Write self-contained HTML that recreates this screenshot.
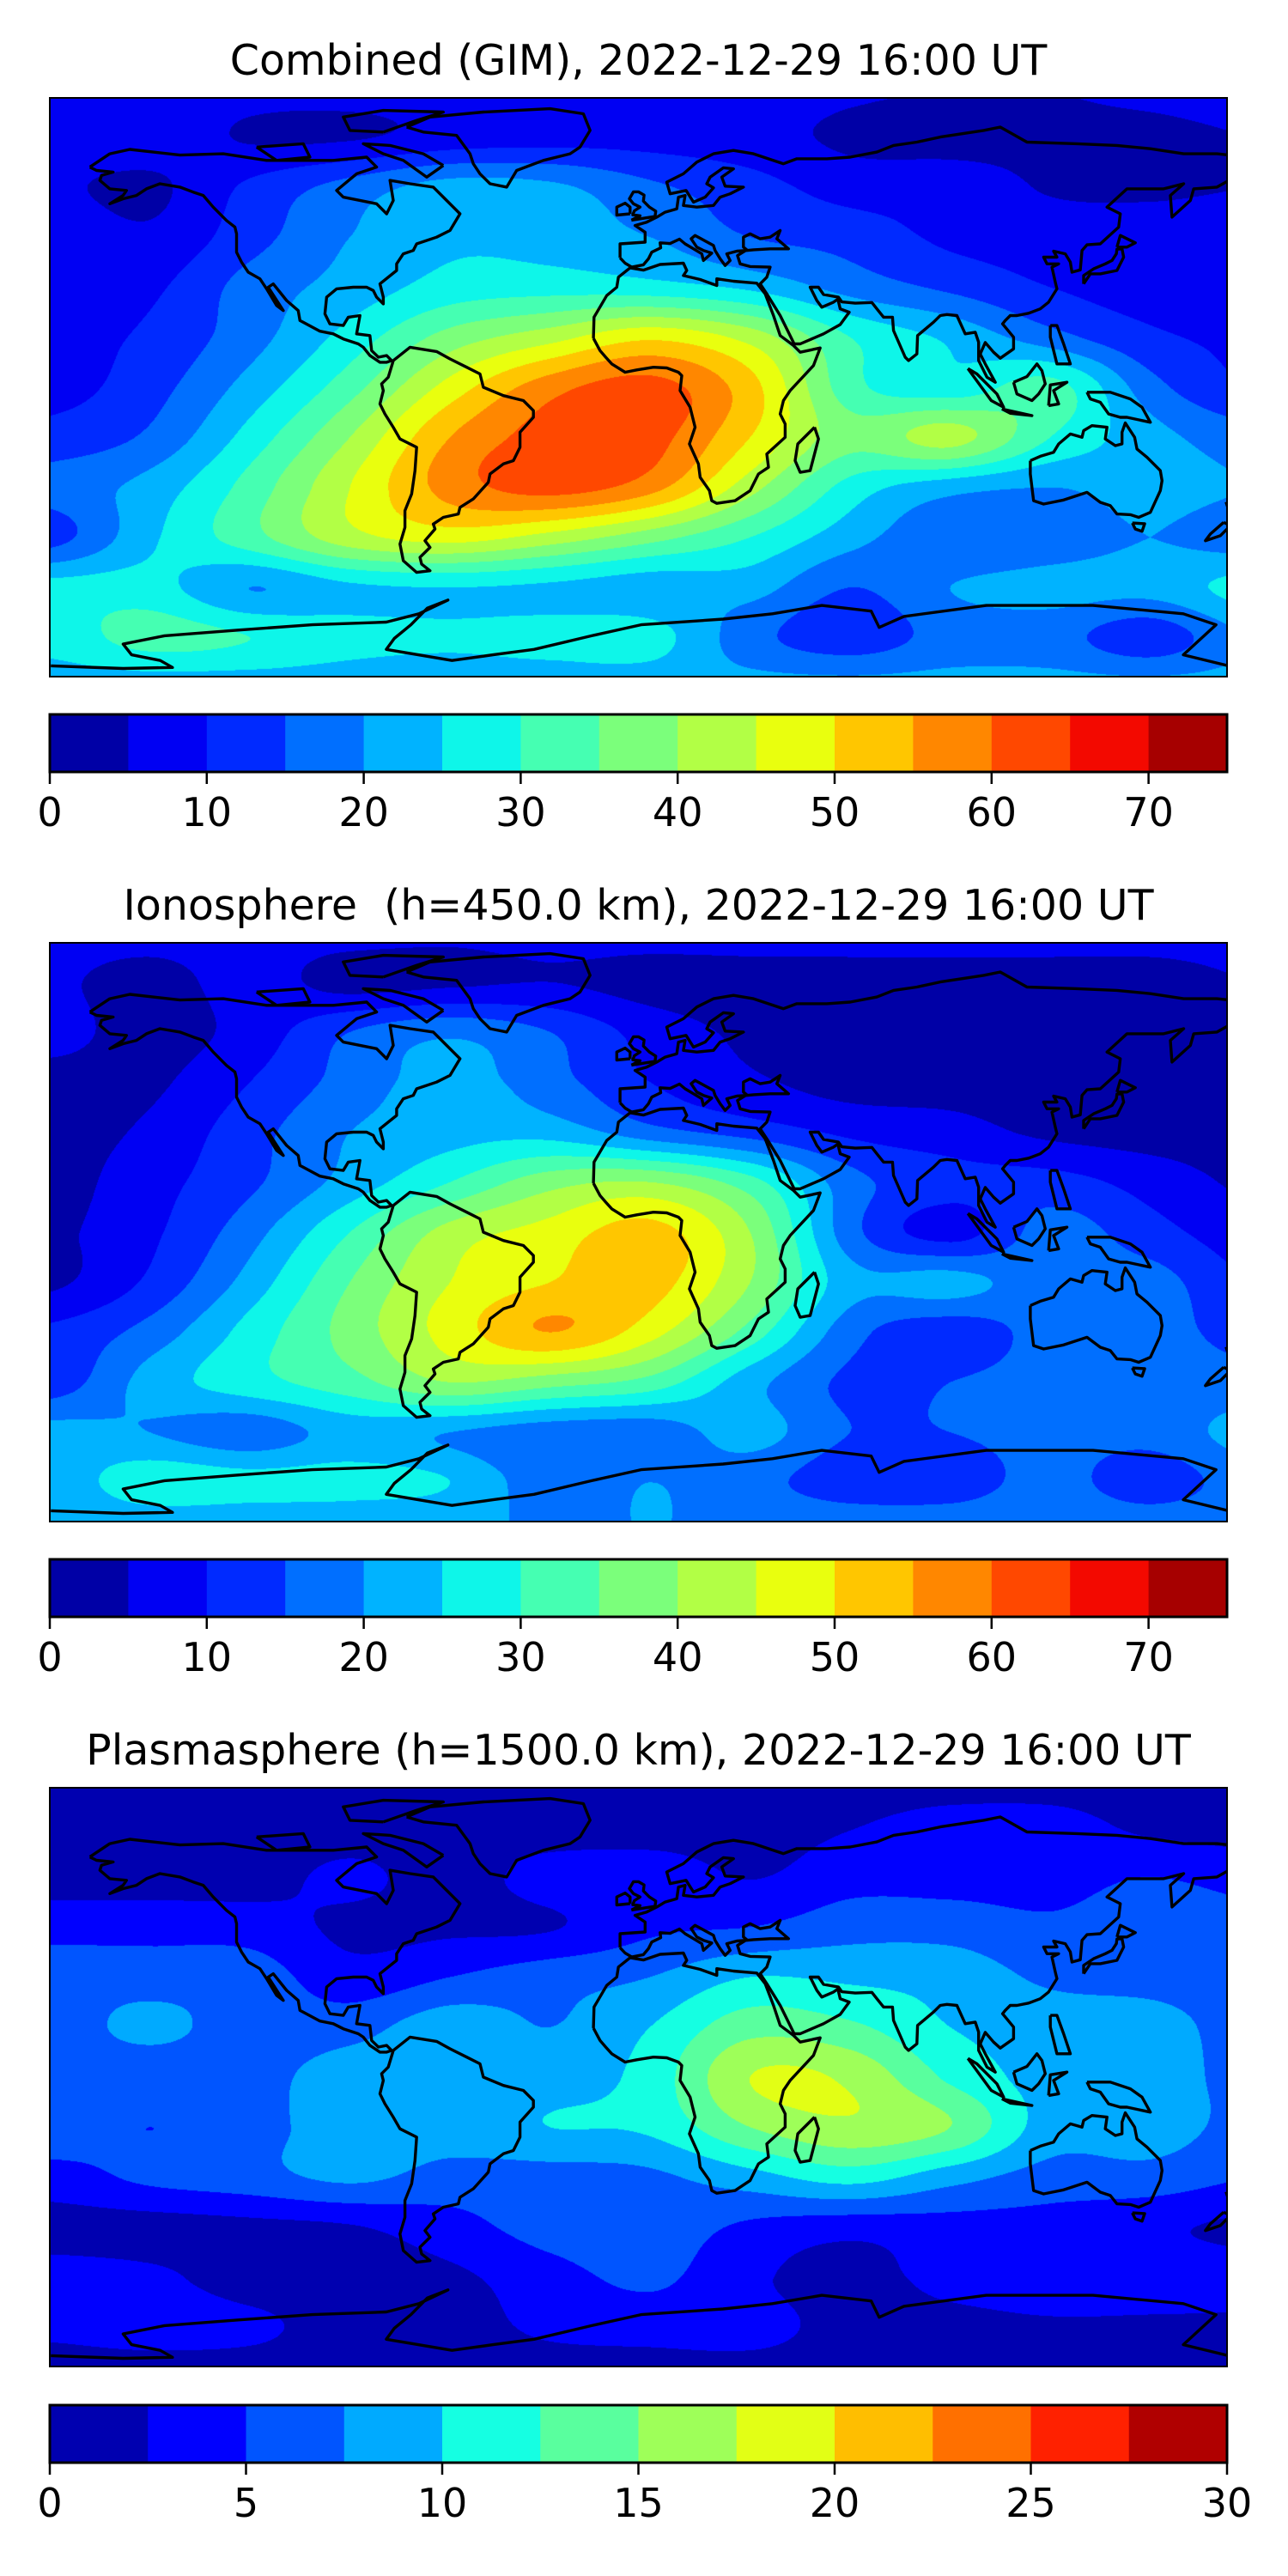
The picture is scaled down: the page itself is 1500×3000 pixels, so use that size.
<!DOCTYPE html>
<html><head><meta charset="utf-8"><title>TEC maps</title>
<style>
html,body{margin:0;padding:0;background:#fff;}
body{width:1500px;height:3000px;position:relative;overflow:hidden;font-family:"DejaVu Sans","Liberation Sans",sans-serif;}
.title{position:absolute;left:0;width:1487px;text-align:center;font-size:49px;line-height:54px;color:#000;white-space:nowrap;}
.map{position:absolute;left:58px;width:1371px;height:674px;}
.map canvas,.map svg{position:absolute;left:0;top:0;}
.frame{position:absolute;left:-1px;top:-1px;width:1369px;height:672px;border:2.5px solid #000;}
.cbar{position:absolute;left:58px;width:1371px;height:67px;}
.cbar svg{position:absolute;left:0;top:0;overflow:visible;}
</style></head>
<body>

<div class="title" style="top:44px">Combined (GIM), 2022-12-29 16:00 UT</div>
<div class="map" id="map0" style="top:114px"><canvas width="1371" height="674"></canvas><svg width="1371" height="674"></svg><div class="frame"></div></div>
<div class="cbar" id="cb0" style="top:832px"><svg width="1371" height="67"></svg></div>

<div class="title" style="top:1028px">Ionosphere&nbsp; (h=450.0 km), 2022-12-29 16:00 UT</div>
<div class="map" id="map1" style="top:1098px"><canvas width="1371" height="674"></canvas><svg width="1371" height="674"></svg><div class="frame"></div></div>
<div class="cbar" id="cb1" style="top:1816px"><svg width="1371" height="67"></svg></div>

<div class="title" style="top:2012px">Plasmasphere (h=1500.0 km), 2022-12-29 16:00 UT</div>
<div class="map" id="map2" style="top:2082px"><canvas width="1371" height="674"></canvas><svg width="1371" height="674"></svg><div class="frame"></div></div>
<div class="cbar" id="cb2" style="top:2801px"><svg width="1371" height="67"></svg></div>

<script>
// grid coordinates of the value fields
const gridLons = [-180,-150,-120,-90,-60,-30,0,30,60,90,120,150,180];
const gridLats = [90,75,60,45,30,15,0,-15,-30,-45,-60,-75,-90];

const gimValues = [
[8,8,7,7,8,8,8,8,6,5,5,6,7],
[8,8,4.5,4.5,7,8,8,7,4,3,4,4,5],
[6,4,11,17,22,21,16,12,8,8,4.5,4,5],
[9,6,13,20,24,23,20,15,13,9,8,8,9],
[8,9,17,22,27,28,27,24,18,14,10,8,8],
[8,11,18,27,37,43,49,43,30,24,17,11,9],
[8,13,22,33,47,58,62,52,32,27,32,17,10],
[12,16,27,40,55,62,62,50,37,42,30,22,17],
[17,22,32,45,57,62,57,42,28,22,20,22,20],
[13,24,33,43,47,43,37,30,22,16,17,20,17],
[27,27,20,24,25,24,22,22,15,20,22,22,27],
[27,32,30,27,26,27,27,17,12,17,17,12,20],
[22,22,22,22,22,22,22,22,22,22,22,22,22]];

const ionoValues = [
[7,7,7,7,6,7,7,7,7,7,7,7,7],
[6,3,7,3,4,5,3,3,3,3,3,3,5],
[7,3,7,15,19,15,8,4,3,3,3,3,4],
[3,4,10,17,22,17,10,6,3,3,3,3,3],
[3,6,13,20,23,23,17,13,9,7,4,3,3],
[3,8,14,22,30,38,40,32,17,12,12,8,4],
[4,9,18,30,42,47,52,40,17,8,17,12,7],
[4,11,22,35,45,50,52,40,22,22,17,17,10],
[11,17,27,37,47,55,47,33,17,12,17,17,13],
[12,22,28,33,40,37,33,22,14,15,17,17,17],
[22,20,17,22,20,17,17,22,15,15,17,17,22],
[22,28,27,27,25,17,20,17,12,12,17,12,18],
[20,20,20,20,20,20,20,20,20,20,20,20,20]];

const plasmaValues = [
[1.2,1.2,1.2,1.2,1.2,1.2,1.2,1.2,1.2,1.2,1.2,1.2,1.2],
[1.3,1.3,1.3,1.3,1.3,1.3,1.3,1.5,2.4,3.5,3.5,2,1.5],
[1.5,1.5,1.5,3,1.5,3.5,4,2.4,4,4,4,5,4],
[4,4,3.8,2,2,2.3,4.5,5,6.5,6.5,5.5,6.5,6],
[6.5,6.5,6.3,3.5,5,6.5,7.5,10,9.5,9,7,6.5,6],
[6.5,8.0,6.5,6.5,9,7.5,10,14,13,10,9,8.8,6],
[6.5,6,6.5,8.8,8.8,8.8,11,17.5,17,12,9,8.8,6.5],
[6.5,5,6.5,8.8,8.8,10,10.5,15,17,15,8.8,8.8,6.5],
[4,5.5,6.5,8,6.5,6.5,7,9,11,8.5,6.5,6.5,5],
[1.5,1.5,1.8,2.3,4,6,6.5,4.5,3.5,4,4,3,2],
[3.5,3,1.5,1.5,2,4,5.5,3,1.5,3.5,4.5,4,3.5],
[3,3.5,3,1.5,1.5,3,3.5,3.5,1.5,1.5,2,2,2],
[1.2,1.2,1.2,1.2,1.2,1.2,1.2,1.2,1.2,1.2,1.2,1.2,1.2]];

const tecTicks = [0,10,20,30,40,50,60,70];
const plasmaTicks = [0,5,10,15,20,25,30];
const tecLevelStep = 5, tecLevelMax = 75;
const plasmaLevelStep = 2.5, plasmaLevelMax = 30;

// ---- map projection (plate carree) ----
const LON0=-180, LON1=173, LAT0=86.75, LAT1=-86.75, MW=1371, MH=674;
function xOf(lon){return (lon-LON0)/(LON1-LON0)*MW;}
function yOf(lat){return (LAT0-lat)/(LAT0-LAT1)*MH;}

// ---- jet colormap ----
function interp(seg,t){for(let i=1;i<seg.length;i++){if(t<=seg[i][0]){const a=seg[i-1],b=seg[i];return a[1]+(b[1]-a[1])*(t-a[0])/(b[0]-a[0]);}}return seg[seg.length-1][1];}
const RS=[[0,0],[0.35,0],[0.66,1],[0.89,1],[1,0.5]];
const GS=[[0,0],[0.125,0],[0.375,1],[0.64,1],[0.91,0],[1,0]];
const BS=[[0,0.5],[0.11,1],[0.34,1],[0.65,0],[1,0]];
function jet(t){return [Math.round(255*interp(RS,t)),Math.round(255*interp(GS,t)),Math.round(255*interp(BS,t))];}
function palette(n){const p=[];for(let i=0;i<n;i++)p.push(jet((i+0.5)/n));return p;}

function cr(p0,p1,p2,p3,t){return 0.5*((2*p1)+(-p0+p2)*t+(2*p0-5*p1+4*p2-p3)*t*t+(-p0+3*p1-3*p2+p3)*t*t*t);}
function sample(grid,lon,lat){
  const fi=(lon-gridLons[0])/(gridLons[1]-gridLons[0]);
  const fj=(gridLats[0]-lat)/(gridLats[0]-gridLats[1]);
  const i=Math.floor(fi), j=Math.floor(fj), tx=fi-i, ty=fj-j;
  const nc=gridLons.length, nr=gridLats.length;
  const g=(r,c)=>grid[Math.max(0,Math.min(nr-1,r))][Math.max(0,Math.min(nc-1,c))];
  const rows=[];
  for(let r=-1;r<=2;r++){rows.push(cr(g(j+r,i-1),g(j+r,i),g(j+r,i+1),g(j+r,i+2),tx));}
  return cr(rows[0],rows[1],rows[2],rows[3],ty);
}

function drawField(mapId,grid,step,vmax){
  const n=Math.round(vmax/step), pal=palette(n);
  const cv=document.querySelector('#'+mapId+' canvas'), ctx=cv.getContext('2d');
  const img=ctx.createImageData(MW,MH), d=img.data;
  for(let py=0;py<MH;py++){
    const lat=LAT0-(py+0.5)/MH*(LAT0-LAT1);
    for(let px=0;px<MW;px++){
      const lon=LON0+(px+0.5)/MW*(LON1-LON0);
      let k=Math.floor(sample(grid,lon,lat)/step); if(k<0)k=0; if(k>n-1)k=n-1;
      const c=pal[k], o=(py*MW+px)*4;
      d[o]=c[0];d[o+1]=c[1];d[o+2]=c[2];d[o+3]=255;
    }
  }
  ctx.putImageData(img,0,0);
}

function drawColorbar(cbId,step,vmax,ticks){
  const n=Math.round(vmax/step), pal=palette(n), W=1371, H=67;
  const svg=document.querySelector('#'+cbId+' svg'), NS='http://www.w3.org/2000/svg';
  const xv=v=>v/vmax*W;
  for(let i=0;i<n;i++){
    const r=document.createElementNS(NS,'rect');
    r.setAttribute('x',xv(i*step));r.setAttribute('y',0);
    r.setAttribute('width',xv(step)+0.6);r.setAttribute('height',H);
    r.setAttribute('fill','rgb('+pal[i].join(',')+')');
    
    
    svg.appendChild(r);
  }
  const b=document.createElementNS(NS,'rect');
  b.setAttribute('x',0);b.setAttribute('y',0);b.setAttribute('width',W);b.setAttribute('height',H);
  b.setAttribute('fill','none');b.setAttribute('stroke','#000');b.setAttribute('stroke-width','3');
  
  
  svg.appendChild(b);
  ticks.forEach(t=>{
    const l=document.createElementNS(NS,'line');
    l.setAttribute('x1',xv(t));l.setAttribute('x2',xv(t));l.setAttribute('y1',H);l.setAttribute('y2',H+14);
    l.setAttribute('stroke','#000');l.setAttribute('stroke-width','2.5');
    
    
    svg.appendChild(l);
    const tx=document.createElementNS(NS,'text');
    tx.setAttribute('x',xv(t));tx.setAttribute('y',H+63);
    tx.setAttribute('text-anchor','middle');tx.setAttribute('font-size','46');
    tx.setAttribute('font-family','DejaVu Sans, Liberation Sans, sans-serif');
    tx.textContent=String(t);
    
    
    svg.appendChild(tx);
  });
}

// ---- simplified coastlines (lon,lat) ----
const coasts = [
[[-168,66],[-162,70],[-156,71.3],[-141,69.6],[-128,70],[-115,68],[-95,68],[-85,69],[-82,66],[-88,64],[-94,59],[-92,57],[-82,55],[-79,52],[-77,56],[-78,62],[-72,61],[-65,60],[-61,56],[-57,52],[-60,47],[-64,45],[-70,43],[-71,41],[-74,40],[-76,37],[-76,35],[-81,31],[-80,27],[-80,25],[-82,27],[-83,29],[-85,30],[-89,30],[-94,29.5],[-97,27],[-97.5,22],[-96,19],[-92,18.5],[-90.5,21],[-87,21.5],[-88,16],[-84,15.5],[-83.5,11],[-81.5,9],[-79,9.5],[-77.5,8],[-79,7.5],[-81,7.5],[-84,9.5],[-86,12],[-87.5,13],[-92,14.5],[-95,16],[-99,16.8],[-105,20],[-105.5,23],[-109,26],[-113,31],[-114.5,30],[-110,23],[-112,24.5],[-115,29.5],[-117,32.5],[-120.5,34.5],[-122.5,37.5],[-124,40.5],[-124,46],[-124.5,48],[-127,50],[-131,54],[-134,57.5],[-137,58.5],[-141,60],[-147,61],[-151,59.5],[-154,57.5],[-158,56.5],[-162,55],[-158,57.5],[-157,59],[-162,59.5],[-165,62],[-164.5,63.5],[-161,64.5],[-166,65],[-168,66]],
[[-73,78],[-66,81],[-50,82.5],[-30,83.5],[-20,82],[-18,77],[-21,72],[-24,70],[-32,68],[-40,65],[-43,60],[-48,61],[-51,64],[-53,67],[-54,70],[-58,75.5],[-68,76.5],[-73,78]],
[[-62,66.5],[-68,70],[-78,72.5],[-86,73],[-80,70],[-74,68],[-67,63],[-62,66.5]],
[[-118,72],[-104,73],[-102,69],[-112,68],[-118,72]],
[[-80,76.5],[-70,80],[-62,82.5],[-80,83],[-92,81],[-90,77],[-80,76.5]],
[[-77,8],[-72,12],[-64,10.7],[-60,8.5],[-55,6],[-51,4],[-50,0],[-44,-2.5],[-38,-4],[-35,-7],[-35,-9],[-39,-13.5],[-39,-18],[-41,-22],[-44,-23],[-48,-26],[-48.5,-28.5],[-53,-33.5],[-57,-36],[-57.5,-38],[-62,-39],[-65,-41],[-64.5,-42.5],[-67.5,-46],[-66,-48],[-69,-51],[-68.5,-53],[-66,-55],[-70,-55.5],[-74,-52],[-75,-47],[-73.5,-42],[-73.5,-37],[-71.5,-32],[-70.5,-25],[-70,-18],[-75,-15.5],[-77,-12],[-79.5,-8],[-81,-5],[-80,-1],[-80.5,1],[-78.5,3],[-77.3,7],[-77,8]],
[[-17,14.7],[-16.8,21],[-13,27.5],[-10,30],[-9.5,33],[-6,35.8],[-2,35.1],[3,36.8],[10,37.2],[11,35],[10,33.5],[15,32.3],[20,30.5],[20,32.5],[25,31.8],[32,31.2],[34.5,28],[37,21.5],[39,15.5],[43,12.5],[45,10.5],[51,11.8],[49,6.5],[42,-1],[40,-4],[39,-8],[40.5,-11],[40.5,-15],[35,-20],[35.5,-24],[32.5,-26],[30,-31],[25.5,-34],[20,-34.8],[18.5,-34],[17.8,-31],[15,-27],[14.5,-23],[11.8,-17],[13.5,-12],[12,-6],[9,-1],[9.5,3.5],[8.5,4.5],[5,5.8],[1,6],[-4,5.2],[-7.5,4.5],[-11.5,7],[-13.3,9],[-15,11],[-17,14.7]],
[[49.3,-12],[50.5,-15.5],[48,-25],[45,-25.5],[43.5,-22],[44.3,-17],[49.3,-12]],
[[-9,38.8],[-9,43],[-1.5,43.5],[-1.5,46.5],[-4.5,48.5],[-1,49.5],[2,51],[4.5,52.5],[8,53.5],[8.5,57],[10.5,57.5],[10,54.5],[14,54],[19,54.5],[21,57],[24,58],[28,60],[22.5,60.3],[21.5,63],[25,65.5],[22,65.8],[18,63],[17,61],[19,59.8],[16.5,57],[13,55.5],[10.8,59],[6,58],[5,61.5],[10,64],[14,67.5],[19,70],[25,71],[31,70],[40,67],[44,68.5],[53,68.5],[60,69],[68,70.5],[73,72.5],[80,73.5],[87,75],[100,77],[105,78],[113,73.5],[128,73],[140,72.5],[150,71.5],[160,70],[170,70],[180,69],[180,65],[178,64.5],[170,60],[163,59.5],[162,56],[156.5,51],[156,57.5],[160,61],[154,59.5],[143,59.5],[137,54],[141,52],[140.5,48],[135,43],[131,42.7],[129.5,41],[129,35.2],[126.5,34.5],[126,37.5],[124.5,40],[121,40.8],[122,39],[118,39],[119,37],[122.5,37],[120.5,36],[121.5,31.5],[122,29.5],[119.5,25.5],[117,23.5],[113.5,22.2],[110,21.5],[108,21.5],[106.5,20],[105.7,19],[109,15],[109,11.5],[105,8.7],[103,10.5],[100.5,13.4],[99,10],[100.5,7],[103.5,1.5],[101,3],[98.5,8],[98.5,13.5],[97.5,16.5],[94.5,16],[92,21.5],[89,21.8],[87,21.5],[85,19.5],[80.2,15.5],[80,10],[77.5,8],[76.5,9],[73,17],[72.7,21],[70,21],[68,23.5],[66.5,25.4],[61.5,25.2],[57.5,25.6],[56.5,27],[52,27.8],[50.5,30],[48,30],[50,26],[51.5,24],[55,25.5],[56.3,26.4],[57,23.5],[59.7,22.5],[57,18.8],[52,16],[45,13],[43.2,13],[39,21.5],[35,28],[33,31],[35,33],[36,36],[30,36.2],[27,37],[26.2,39.5],[29,41.2],[28,42],[28,45],[30,46],[33,44.5],[36,45],[39,47],[38,44.5],[41.5,41.5],[36,41.5],[31,41.2],[29,41],[26,40.8],[23,40],[24,38],[22.5,36.5],[21,38.5],[19.5,41],[19,42.5],[13.5,45.5],[12.3,44.5],[14,42],[16,41],[18.5,40.2],[16,38],[15.5,40],[12.5,41.8],[10.5,43],[8.8,44.4],[6,43.1],[3,43.3],[3.2,41.8],[0.5,40.5],[-0.5,38.5],[-2,36.7],[-5.5,36],[-7.5,37.2],[-9,38.8]],
[[-5.6,50.1],[1.5,51.2],[1.7,52.8],[-0.2,54],[-2,55.8],[-1.8,57.6],[-3.5,58.6],[-5,58.6],[-6.2,56.5],[-5,55],[-3,54],[-4.7,52.9],[-5.2,51.7],[-3,51.4],[-5.6,50.1]],
[[-6,52],[-6,54],[-7.5,55.2],[-10,54],[-10,51.6],[-6,52]],
[[130,31],[132,34],[135,34],[140,35],[142,39],[141.5,41.5],[140,41.4],[139.8,40],[138.5,38],[136.5,37],[133,35.5],[130,33.5],[130,31]],
[[140,42],[141,45.5],[145.5,43.3],[143,42],[140,42]],
[[95.3,5.6],[98,4],[104,-2],[106,-6],[102.3,-4],[95.3,5.6]],
[[109,1.5],[110,-2],[114.5,-4],[116.5,-2],[118.5,1],[117.5,5],[116,7],[113,3.2],[109,1.5]],
[[105.5,-6.5],[114.5,-8.5],[108,-7.8],[105.5,-6.5]],
[[131,-1.5],[138,-1.5],[144,-3.5],[147.5,-6],[150,-10.5],[143,-9],[141,-9],[137.5,-8],[135,-4.5],[132,-3.5],[131,-1.5]],
[[119.5,-5.5],[120,0.7],[125,1.5],[121,-1],[122.5,-5],[119.5,-5.5]],
[[120,18.5],[122,18.5],[124,13],[126,7],[122,7],[120,15],[120,18.5]],
[[114,-22],[114,-26],[115,-34],[118,-35],[124,-33.8],[131,-31.5],[135,-34.5],[138,-35.5],[140,-38],[144,-38.2],[146.5,-39],[150,-37.5],[153,-31],[153.5,-28],[153,-25],[149,-21],[146,-18.5],[145.3,-15],[142.5,-10.7],[141.5,-13.5],[141.5,-17],[139.5,-17.5],[136.5,-15.5],[137,-12],[132.5,-11.5],[130,-13],[129.5,-15],[126,-14],[122.5,-17],[121,-19.5],[117,-20.7],[114,-22]],
[[144.6,-40.7],[148.3,-40.9],[147.5,-43.2],[145.5,-42.5],[144.6,-40.7]],
[[172.7,-34.4],[178.5,-37.7],[175,-41.5],[172.7,-34.4]],
[[172,-40.5],[174,-41.5],[171,-44.5],[166.5,-46],[168,-44],[172,-40.5]],
[[-179.7,-83.5],[-158,-84.3],[-143.2,-84],[-146.9,-81.9],[-155.5,-80.2],[-158,-77],[-145.6,-74.5],[-123.5,-72.8],[-101.3,-71.2],[-79.1,-70.4],[-69.3,-67.9],[-60.6,-63.8],[-66.8,-66.2],[-71.7,-71.2],[-76.7,-75.3],[-79.1,-78.6],[-59.4,-81.9],[-47.1,-80.2],[-34.8,-78.6],[-17.5,-74.5],[-2.7,-71.2],[21.9,-69.5],[36.7,-67.9],[51.5,-65.4],[66.3,-67.1],[68.7,-72],[76.1,-68.7],[100.8,-65.4],[132.8,-65.4],[159.9,-67.9],[169.7,-71.2],[159.9,-80.2],[173.4,-83.5]]
];

function drawCoasts(mapId){
  const svg=document.querySelector('#'+mapId+' svg'), NS='http://www.w3.org/2000/svg';
  coasts.forEach(c=>{
    const p=document.createElementNS(NS,'polyline');
    p.setAttribute('points',c.map(q=>xOf(q[0]).toFixed(1)+','+yOf(q[1]).toFixed(1)).join(' '));
    p.setAttribute('fill','none');p.setAttribute('stroke','#000');p.setAttribute('stroke-width','3.4');
    p.setAttribute('stroke-linejoin','round');
    
    
    svg.appendChild(p);
  });
}

drawField('map0',gimValues,tecLevelStep,tecLevelMax);
drawField('map1',ionoValues,tecLevelStep,tecLevelMax);
drawField('map2',plasmaValues,plasmaLevelStep,plasmaLevelMax);
['map0','map1','map2'].forEach(drawCoasts);
drawColorbar('cb0',tecLevelStep,tecLevelMax,tecTicks);
drawColorbar('cb1',tecLevelStep,tecLevelMax,tecTicks);
drawColorbar('cb2',plasmaLevelStep,plasmaLevelMax,plasmaTicks);
</script>
</body></html>
